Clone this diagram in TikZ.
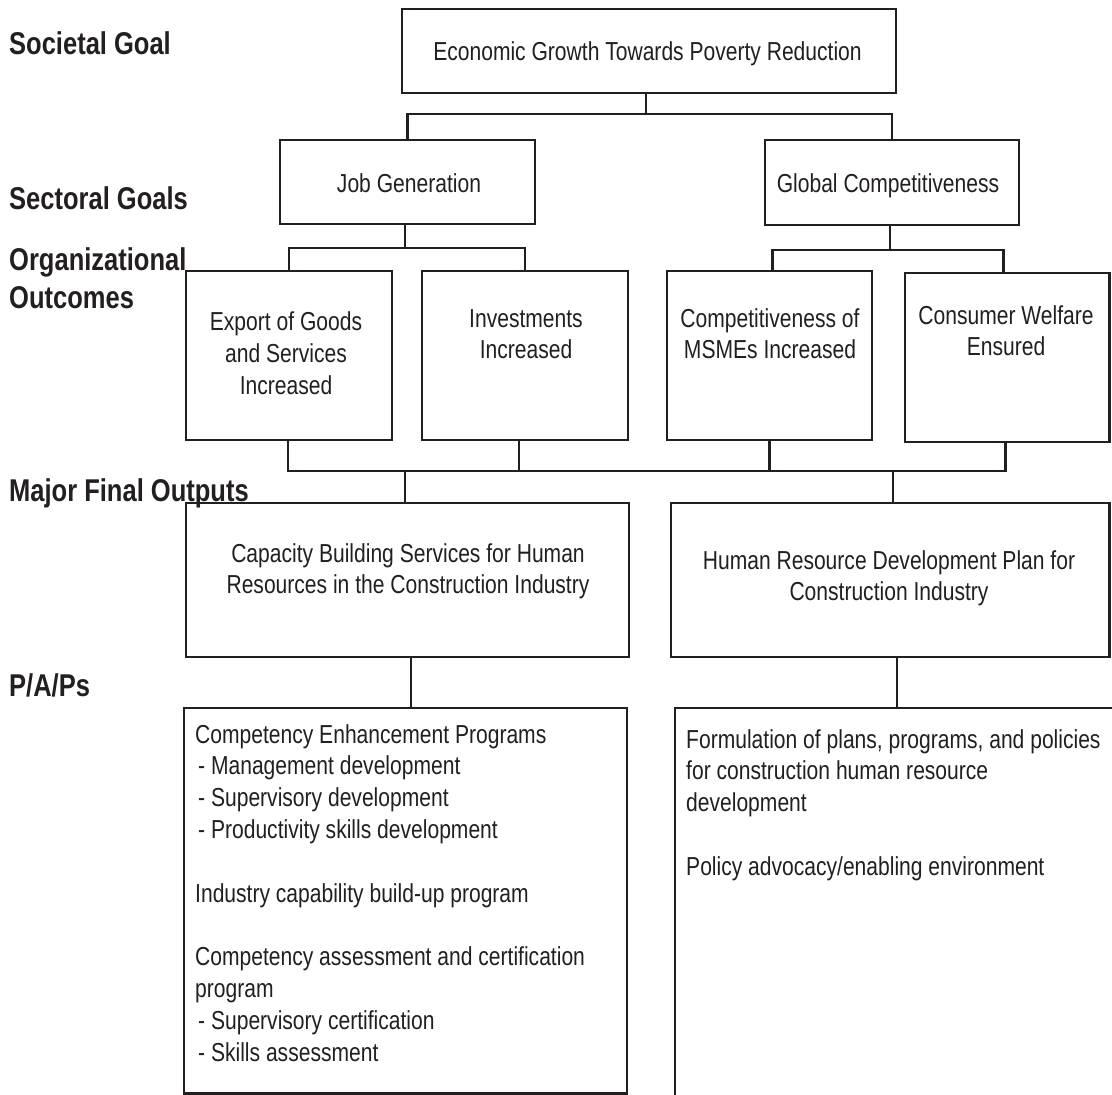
\documentclass[tikz,border=0pt]{standalone}
\usepackage{fontspec}
\setmainfont{Liberation Sans}[FakeStretch=0.81]
\definecolor{ink}{HTML}{231F20}
\begin{document}
\begin{tikzpicture}[x=1pt,y=-1pt,
  box/.style={draw=ink, line width=2.7pt, inner sep=0pt, outer sep=0pt, rectangle},
  conn/.style={draw=ink, line width=2.7pt},
  btxt/.style={text=ink, inner sep=0pt, font=\fontsize{26}{31.8}\selectfont, align=center, anchor=north},
  ltxt/.style={text=ink, inner sep=0pt, font=\fontsize{26}{31.8}\selectfont, align=left, anchor=north west},
  lvl/.style={text=ink, inner sep=0pt, font=\bfseries\fontsize{31.5}{38}\selectfont, align=left, anchor=north west}]
\useasboundingbox (0,0) rectangle (1112,1095);
\fill[white] (0,0) rectangle (1112,1095);
\clip (0,0) rectangle (1112,1095);

% level labels
\node[lvl] (l1) at (9,31) {Societal Goal};
\node[lvl] (l2) at (9,186) {Sectoral Goals};
\node[lvl] (l3) at (9,247) {Organizational\\Outcomes};
\node[lvl] (l4) at (9,478) {Major Final Outputs};
\node[lvl] (l5) at (9,673) {P/A/Ps};

% boxes
\node[box, minimum width=494pt, minimum height=84pt] (top) at (649,51) {};
\node[box, minimum width=255pt, minimum height=84pt] (job) at (407.5,182) {};
\node[box, minimum width=254pt, minimum height=85pt] (glob) at (892,182.5) {};
\node[box, minimum width=206pt, minimum height=169pt] (exp) at (289,355.5) {};
\node[box, minimum width=206pt, minimum height=169pt] (inv) at (525,355.5) {};
\node[box, minimum width=205pt, minimum height=169pt] (msme) at (769.5,355.5) {};
\node[box, minimum width=204.5pt, minimum height=169pt] (cons) at (1007.25,357.5) {};
\node[box, minimum width=443pt, minimum height=154pt] (cap) at (407.5,580) {};
\node[box, minimum width=438.5pt, minimum height=154pt] (hr) at (890.25,580) {};
\node[box, minimum width=443pt, minimum height=385.5pt] (pl) at (405.5,900.75) {};
\node[box, minimum width=444pt, minimum height=412pt] (pr) at (897,914) {};

% box texts
\node[btxt] (toptxt) at (647.5,41.5) {Economic Growth Towards Poverty Reduction};
\node[btxt] (jobtxt) at (409,173) {Job Generation};
\node[btxt] (globtxt) at (888,173) {Global Competitiveness};
\node[btxt] (exptxt) at (286,311.5) {Export of Goods\\and Services\\Increased};
\node[btxt] (invtxt) at (526,309) {Investments\\Increased};
\node[btxt] (msmetxt) at (770,308) {Competitiveness of\\MSMEs Increased};
\node[btxt] (constxt) at (1006,305) {Consumer Welfare\\Ensured};
\node[btxt] (captxt) at (408,543) {Capacity Building Services for Human\\Resources in the Construction Industry};
\node[btxt] (hrtxt) at (889,550) {Human Resource Development Plan for\\Construction Industry};
\node[ltxt] (pltxt) at (195,724) {Competency Enhancement Programs\\
\hspace*{3pt}- Management development\\
\hspace*{3pt}- Supervisory development\\
\hspace*{3pt}- Productivity skills development\\[31.8pt]
Industry capability build-up program\\[31.8pt]
Competency assessment and certification\\
program\\
\hspace*{3pt}- Supervisory certification\\
\hspace*{3pt}- Skills assessment};
\node[ltxt] (prtxt) at (686,729) {Formulation of plans, programs, and policies\\
for construction human resource\\
development\\[31.8pt]
Policy advocacy/enabling environment};

% connectors
\coordinate (b1) at (649,114);
\coordinate (b2a) at (407,248);
\coordinate (b2b) at (892,250);
\coordinate (b3) at (600,471);
\draw[conn] ([xshift=-3pt]top.south) -- ([xshift=-3pt]top.south |- b1);
\draw[conn] (job.north) -- (job.north |- b1) -- (glob.north |- b1) -- (glob.north);
\draw[conn] ([xshift=-2.5pt]job.south) -- ([xshift=-2.5pt]job.south |- b2a);
\draw[conn] (exp.north) -- (exp.north |- b2a) -- (inv.north |- b2a) -- (inv.north);
\draw[conn] ([xshift=-2pt]glob.south) -- ([xshift=-2pt]glob.south |- b2b);
\draw[conn] ([xshift=3pt]msme.north) -- ([xshift=3pt]msme.north |- b2b) -- ([xshift=-4pt]cons.north |- b2b) -- ([xshift=-4pt]cons.north);
\draw[conn] ([xshift=-1pt]exp.south) -- ([xshift=-1pt]exp.south |- b3) -- ([xshift=-1.5pt]cons.south |- b3) -- ([xshift=-1.5pt]cons.south);
\draw[conn] ([xshift=-6pt]inv.south) -- ([xshift=-6pt]inv.south |- b3);
\draw[conn] (msme.south) -- (msme.south |- b3);
\draw[conn] ([xshift=-2.5pt]cap.north |- b3) -- ([xshift=-2.5pt]cap.north);
\draw[conn] ([xshift=2.75pt]hr.north |- b3) -- ([xshift=2.75pt]hr.north);
\draw[conn] ([xshift=3.5pt]cap.south) -- ([xshift=3.5pt]cap.south |- pl.north);
\draw[conn] (pr.north |- hr.south) -- (pr.north);
\end{tikzpicture}
\end{document}
